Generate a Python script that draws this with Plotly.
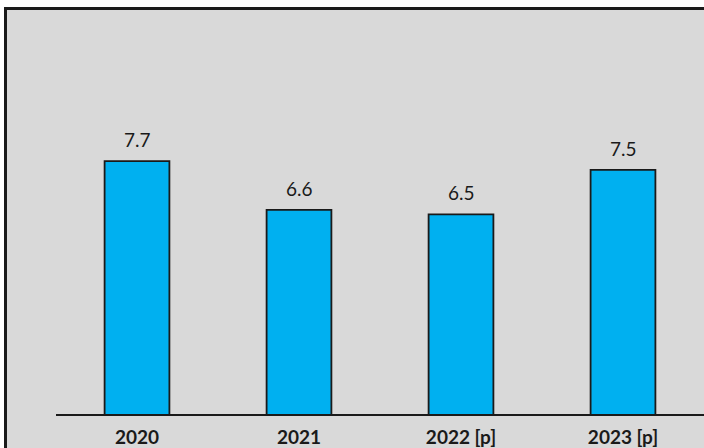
import plotly.graph_objects as go

# Annual values by year ([p] = provisional)
years = ["2020", "2021", "2022 [p]", "2023 [p]"]
values = [7.7, 6.6, 6.5, 7.5]
value_labels = ["7.7", "6.6", "6.5", "7.5"]

BAR_BLUE = "#00b0f0"
INK = "#1a1a1a"
PANEL = "#d9d9d9"
FONT = "Lato"

W, H = 704, 448
# outer margins: white gap left of and above the grey framed panel
M_L, M_T = 7, 10
AREA_W, AREA_H = W - M_L, H - M_T
# pixel box of the bar chart inside the panel
BOX_L, BOX_T, BOX_B = 56, 59, 414

fig = go.Figure()

# empty trace that owns the full-panel subplot (x / y) holding the frame
fig.add_trace(go.Scatter(x=[], y=[], xaxis="x", yaxis="y",
                         hoverinfo="skip", showlegend=False))

fig.add_trace(go.Bar(
    x=years,
    y=values,
    xaxis="x2", yaxis="y2",
    width=0.4,
    marker=dict(color=BAR_BLUE, line=dict(color=INK, width=1.8)),
    hoverinfo="x+y",
))

# value labels above each bar (category axis positions are 0..n-1)
for i, (val, lab) in enumerate(zip(values, value_labels)):
    fig.add_annotation(
        x=i, y=val, xref="x2", yref="y2", text=lab, showarrow=False,
        yanchor="bottom", yshift=8,
        font=dict(family=FONT, size=19, color=INK),
    )

frame_axis = dict(range=[0, 1], showline=True, linecolor=INK, linewidth=2.5,
                  showgrid=False, zeroline=False, showticklabels=False,
                  ticks="", fixedrange=True)

fig.update_layout(
    width=W, height=H,
    margin=dict(l=M_L, r=0, t=M_T, b=0, pad=0),
    paper_bgcolor="white",
    plot_bgcolor=PANEL,
    showlegend=False,
    # panel frame: top and left edges only
    xaxis=dict(frame_axis, domain=[0, 1], anchor="y", side="top"),
    yaxis=dict(frame_axis, domain=[0, 1], anchor="x", side="left"),
    # bar chart axes
    xaxis2=dict(
        type="category",
        categoryorder="array", categoryarray=years,
        range=[-0.5, len(years) - 0.5],
        domain=[(BOX_L - M_L) / AREA_W, 1],
        anchor="y2",
        showline=True, linecolor=INK, linewidth=2,
        showgrid=False, zeroline=False,
        ticks="", ticklabelstandoff=5,
        tickfont=dict(family=FONT, size=19, color=INK, weight="bold"),
    ),
    yaxis2=dict(
        range=[2, 10],
        domain=[(H - BOX_B) / AREA_H, (H - BOX_T) / AREA_H],
        anchor="x2",
        visible=False, showgrid=False, zeroline=False,
    ),
)

fig.write_html("out.html", config={"displayModeBar": False})
